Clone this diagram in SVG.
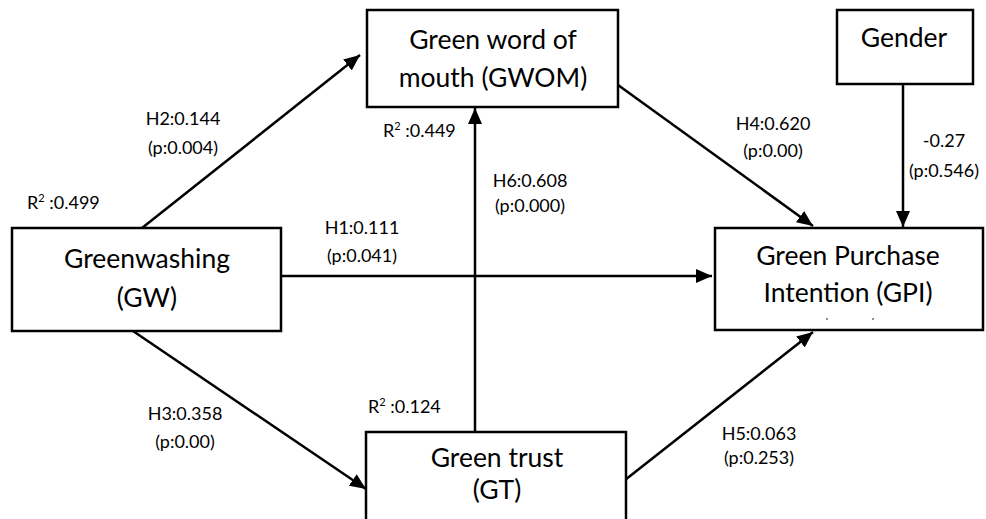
<svg xmlns="http://www.w3.org/2000/svg" width="986" height="519" viewBox="0 0 986 519">
<style>
.box{fill:#fff;stroke:#000;stroke-width:2.5}
.nt{font-family:Lato,"Open Sans","Liberation Sans",sans-serif;font-size:26.5px;fill:#000;text-anchor:middle}
.lb{font-family:Lato,"Open Sans","Liberation Sans",sans-serif;font-size:18px;fill:#000;text-anchor:middle}
.r2{font-family:Lato,"Open Sans","Liberation Sans",sans-serif;font-size:18px;fill:#000}
.sup{font-size:11px}
.edge{stroke:#000;stroke-width:2.5;fill:none;marker-end:url(#arr)}
</style>
<defs>
<marker id="arr" markerUnits="userSpaceOnUse" markerWidth="16" markerHeight="14" refX="16" refY="7" orient="auto">
<path d="M0,0 L16,7 L0,14 z" fill="#000"/>
</marker>
</defs>
<rect width="986" height="519" fill="#fff"/>
<g id="connectors">
<line class="edge" x1="142" y1="228" x2="360" y2="55"/>
<line class="edge" x1="475" y1="432" x2="475" y2="108"/>
<line class="edge" x1="281" y1="276" x2="712" y2="276"/>
<line class="edge" x1="618" y1="85" x2="813" y2="226"/>
<line class="edge" x1="903" y1="84" x2="903" y2="227"/>
<line class="edge" x1="133" y1="331" x2="366" y2="489"/>
<line class="edge" x1="625" y1="480" x2="813" y2="332"/>
</g>
<g id="node-gwom">
<rect class="box" x="367" y="10" width="251" height="97"/>
<text class="nt" x="493" y="49">Green word of</text>
<text class="nt" x="493" y="87">mouth (GWOM)</text>
</g>
<g id="node-gender">
<rect class="box" x="837" y="10" width="136" height="74"/>
<text class="nt" x="904" y="47">Gender</text>
</g>
<g id="node-gw">
<rect class="box" x="12" y="228" width="269" height="103"/>
<text class="nt" x="147" y="268">Greenwashing</text>
<text class="nt" x="147" y="307">(GW)</text>
</g>
<g id="node-gpi">
<rect class="box" x="715" y="228" width="268" height="102"/>
<text class="nt" x="848" y="265">Green Purchase</text>
<text class="nt" x="848" y="302">Intention (GPI)</text>
<circle cx="827" cy="319" r="0.8" fill="#000"/>
<circle cx="873" cy="319" r="0.8" fill="#000"/>
</g>
<g id="node-gt">
<rect class="box" x="366" y="432" width="260" height="92"/>
<text class="nt" x="497" y="467">Green trust</text>
<text class="nt" x="497" y="499">(GT)</text>
</g>
<g id="labels">
<text class="lb" x="183" y="125">H2:0.144</text>
<text class="lb" x="183" y="154">(p:0.004)</text>
<text class="r2" x="27" y="209">R<tspan class="sup" dy="-7">2</tspan><tspan dy="7"> :0.499</tspan></text>
<text class="r2" x="383" y="137">R<tspan class="sup" dy="-7">2</tspan><tspan dy="7"> :0.449</tspan></text>
<text class="r2" x="368" y="413">R<tspan class="sup" dy="-7">2</tspan><tspan dy="7"> :0.124</tspan></text>
<text class="lb" x="362" y="234">H1:0.111</text>
<text class="lb" x="362" y="262">(p:0.041)</text>
<text class="lb" x="530" y="187">H6:0.608</text>
<text class="lb" x="530" y="212">(p:0.000)</text>
<text class="lb" x="773" y="130">H4:0.620</text>
<text class="lb" x="773" y="157">(p:0.00)</text>
<text class="lb" x="944" y="147">-0.27</text>
<text class="lb" x="944" y="177">(p:0.546)</text>
<text class="lb" x="185" y="420">H3:0.358</text>
<text class="lb" x="185" y="448">(p:0.00)</text>
<text class="lb" x="759" y="440">H5:0.063</text>
<text class="lb" x="759" y="464">(p:0.253)</text>
</g>
</svg>
